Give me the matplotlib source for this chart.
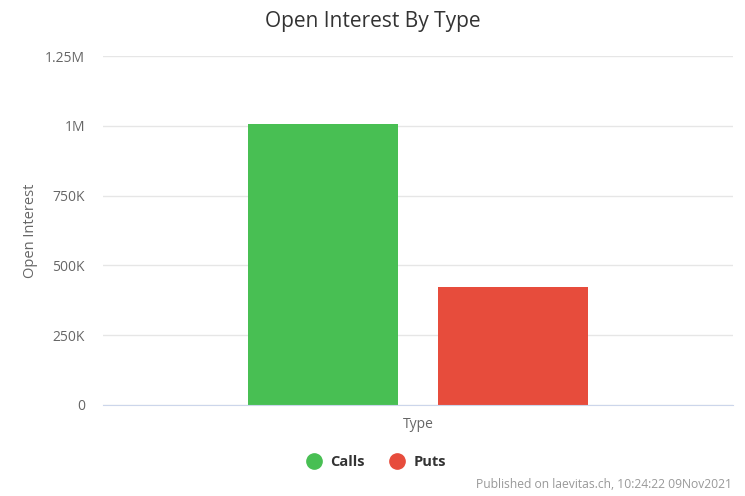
import matplotlib
matplotlib.use("Agg")
import matplotlib.pyplot as plt
from matplotlib.lines import Line2D
from matplotlib.ticker import FixedLocator, FixedFormatter

# Data
category = "Type"
series_names = ["Calls", "Puts"]
series_values = [1006000, 423000]
series_colors = ["#48bf53", "#e74c3c"]
yticks = [0, 250000, 500000, 750000, 1000000, 1250000]
ytick_labels = ["0", "250K", "500K", "750K", "1M", "1.25M"]

plt.rcParams['font.family'] = ['Open Sans', 'DejaVu Sans']

W, H = 745, 496
fig = plt.figure(figsize=(W / 100, H / 100), dpi=100)
ax = fig.add_axes([103 / W, 1 - 405 / H, 630 / W, 349 / H])

offsets = [-0.151, 0.151]
width = 0.238
for name, val, col, off in zip(series_names, series_values, series_colors, offsets):
    ax.bar(off, val, width=width, color=col, label=name, zorder=3)

ax.set_xlim(-0.5, 0.5)
ax.set_ylim(0, 1250000)
ax.yaxis.set_major_locator(FixedLocator(yticks))
ax.yaxis.set_major_formatter(FixedFormatter(ytick_labels))
ax.set_xticks([0])
ax.set_xticklabels([category])
ax.tick_params(axis='x', length=0, pad=9, labelsize=10, labelcolor="#666666")
ax.tick_params(axis='y', length=0, pad=13, labelsize=10, labelcolor="#666666")
ax.grid(axis='y', color="#e6e6e6", linewidth=1, zorder=0)
for s in ["top", "right", "left"]:
    ax.spines[s].set_visible(False)
ax.spines["bottom"].set_color("#ccd6eb")
ax.spines["bottom"].set_zorder(4)

ax.set_ylabel("Open Interest", fontsize=10.5, color="#666666", labelpad=5)

fig.text(0.5, 1 - 21 / H, "Open Interest By Type", ha="center", va="center",
         fontsize=15, color="#333333")

handles = [Line2D([0], [0], marker='o', linestyle='none', markersize=11,
                  markerfacecolor=c, markeredgecolor=c) for c in series_colors]
leg = fig.legend(handles, series_names, loc="center", ncol=2,
                 bbox_to_anchor=(374 / W, 1 - 462 / H), frameon=False,
                 handletextpad=0.35, columnspacing=1.4, handlelength=1.6,
                 prop={'weight': 'bold', 'size': 10.5})
for t in leg.get_texts():
    t.set_color("#333333")

fig.text(732 / W, 1 - 485 / H, "Published on laevitas.ch, 10:24:22 09Nov2021",
         ha="right", va="center", fontsize=8.7, color="#999999")

fig.savefig("out.png", dpi=100)
